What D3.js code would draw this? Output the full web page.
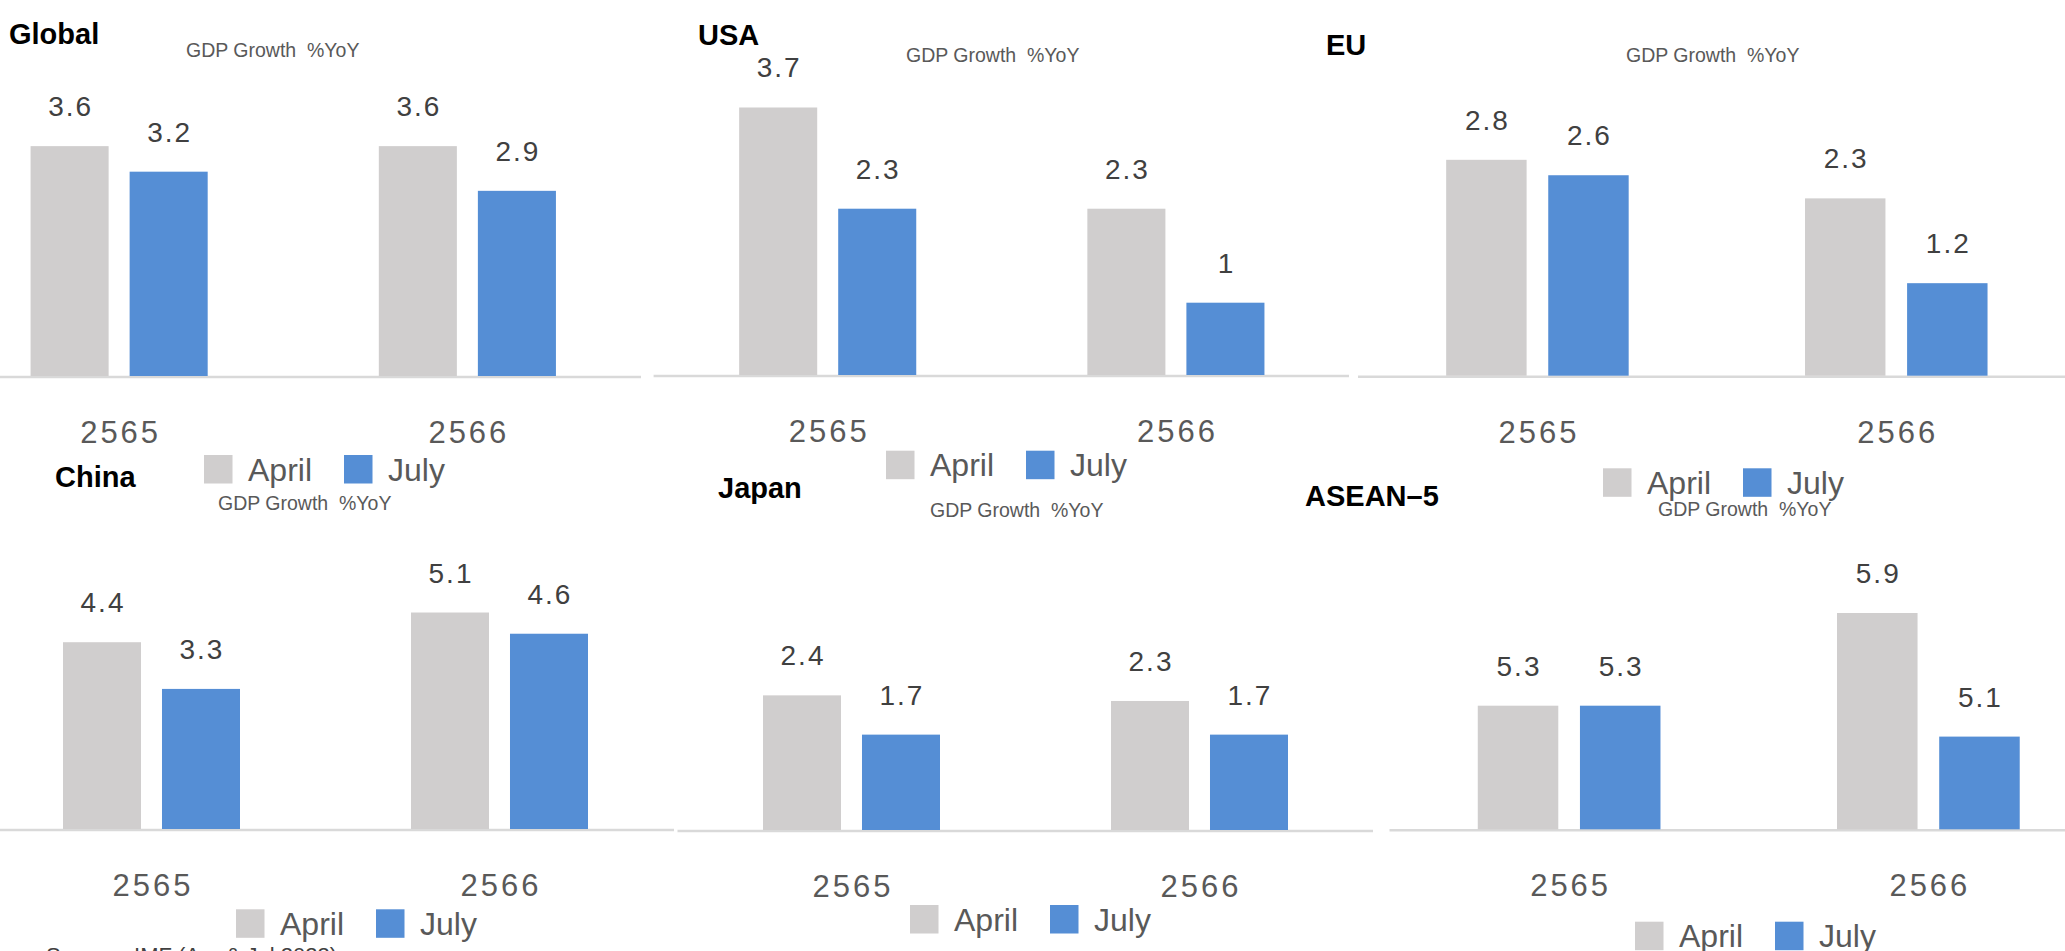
<!DOCTYPE html>
<html>
<head>
<meta charset="utf-8">
<script src="https://cdn.jsdelivr.net/npm/d3@7"></script>
<style>
  html, body { margin: 0; padding: 0; background: #ffffff; }
  svg { display: block; }
</style>
</head>
<body>
<svg id="chart" width="2065" height="951"></svg>
<script>
// ---------------- data ----------------
const regions = ["Global", "USA", "EU", "China", "Japan", "ASEAN\u20135"];
const categories = ["2565", "2566"];
const seriesNames = ["April", "July"];
const aprilValues = [[3.6, 3.6], [3.7, 2.3], [2.8, 2.3], [4.4, 5.1], [2.4, 2.3], [5.3, 5.9]];
const julyValues  = [[3.2, 2.9], [2.3, 1.0], [2.6, 1.2], [3.3, 4.6], [1.7, 1.7], [5.3, 5.1]];
const subtitleText = "GDP Growth  %YoY";
const sourceText = "Source : IMF (Apr & Jul 2023)";

// ---------------- layout (positions only) ----------------
const layout = [
  { x0: -55,    x1: 641.5, base: 376,   top: 120.6, yMin: 0,   yMax: 4, axisX0: 0,     axisX1: 641,
    title: [9, 44],     sub: [186, 56.7],  legend: [204, 455] },
  { x0: 653.6,  x1: 1350,  base: 375,   top: 85.8,  yMin: 0,   yMax: 4, axisX0: 653.6, axisX1: 1349,
    title: [698, 45],   sub: [906, 62.3],  legend: [886, 450.7] },
  { x0: 1358,   x1: 2075.7,base: 375.7, top: 144.4, yMin: 0,   yMax: 3, axisX0: 1358,  axisX1: 2065,
    title: [1326, 55],  sub: [1626, 62.3], legend: [1603, 468.3] },
  { x0: -22.5,  x1: 673.5, base: 829,   top: 574.3, yMin: 0,   yMax: 6, axisX0: 0,     axisX1: 674,
    title: [55, 486.7], sub: [218, 510],   legend: [236, 909.3] },
  { x0: 677.5,  x1: 1373.5,base: 830,   top: 661.7, yMin: 0,   yMax: 3, axisX0: 677.5, axisX1: 1373,
    title: [718, 498.3],sub: [930, 516.7], legend: [910, 905] },
  { x0: 1389.5, x1: 2108,  base: 829.3, top: 597.55,yMin: 4.5, yMax: 6, axisX0: 1389.5,axisX1: 2065,
    title: [1305, 506], sub: [1658, 516],  legend: [1635, 921.7] }
];

const colors = { April: "#d0cece", July: "#558ed5" };
const sans = "'Liberation Sans', Arial, Helvetica, sans-serif";

const svg = d3.select("#chart");
svg.append("rect").attr("width", 2065).attr("height", 951).attr("fill", "#ffffff");

regions.forEach((region, i) => {
  const L = layout[i];
  const g = svg.append("g");

  const x = d3.scaleBand().domain(categories).range([L.x0, L.x1]).paddingInner(0).paddingOuter(0);
  const band = x.bandwidth();
  const half = band * 0.2543;
  const xs = d3.scaleBand().domain(seriesNames)
    .range([band / 2 - half, band / 2 + half])
    .paddingInner(0.212).paddingOuter(0);
  const y = d3.scaleLinear().domain([L.yMin, L.yMax]).range([L.base, L.top]);

  const rows = categories.map((c, j) => ({
    cat: c,
    vals: [{ s: "April", v: aprilValues[i][j] }, { s: "July", v: julyValues[i][j] }]
  }));

  // axis baseline
  g.append("line")
    .attr("x1", L.axisX0).attr("x2", L.axisX1)
    .attr("y1", L.base + 1).attr("y2", L.base + 1)
    .attr("stroke", "#d9d9d9").attr("stroke-width", 2.5);

  const groups = g.selectAll("g.cat").data(rows).join("g")
    .attr("class", "cat")
    .attr("transform", d => `translate(${x(d.cat)},0)`);

  groups.selectAll("rect").data(d => d.vals).join("rect")
    .attr("x", d => xs(d.s))
    .attr("width", xs.bandwidth())
    .attr("y", d => y(d.v))
    .attr("height", d => y(L.yMin) - y(d.v))
    .attr("fill", d => colors[d.s]);

  groups.selectAll("text.val").data(d => d.vals).join("text")
    .attr("class", "val")
    .attr("x", d => xs(d.s) + xs.bandwidth() / 2 + 1)
    .attr("y", d => y(d.v) - 30)
    .attr("text-anchor", "middle")
    .attr("font-family", sans)
    .attr("font-size", 28)
    .attr("letter-spacing", 2)
    .attr("fill", "#404040")
    .text(d => String(d.v));

  // category axis labels
  const xAxis = d3.axisBottom(x).tickSize(0).tickPadding(0);
  const ax = g.append("g").attr("transform", `translate(0,${L.base + 67})`).call(xAxis);
  ax.select(".domain").remove();
  ax.selectAll("text")
    .attr("dy", 0)
    .attr("x", 1.5)
    .attr("font-family", sans)
    .attr("font-size", 31)
    .attr("letter-spacing", 3)
    .attr("fill", "#595959");

  // title
  g.append("text")
    .attr("x", L.title[0]).attr("y", L.title[1])
    .attr("font-family", sans)
    .attr("font-weight", "bold")
    .attr("font-size", 29)
    .attr("fill", "#000000")
    .text(region);

  // subtitle
  g.append("text")
    .attr("x", L.sub[0]).attr("y", L.sub[1])
    .attr("font-family", sans)
    .attr("font-size", 19.5)
    .attr("fill", "#595959")
    .attr("xml:space", "preserve")
    .style("white-space", "pre")
    .text(subtitleText);

  // legend
  const leg = g.append("g").attr("transform", `translate(${L.legend[0]},${L.legend[1]})`);
  const li = leg.selectAll("g").data(seriesNames).join("g")
    .attr("transform", (d, k) => `translate(${k * 140},0)`);
  li.append("rect").attr("width", 28.5).attr("height", 28.5).attr("fill", d => colors[d]);
  li.append("text")
    .attr("x", 44).attr("y", 25.7)
    .attr("font-family", sans)
    .attr("font-size", 32)
    .attr("fill", "#595959")
    .text(d => d);
});

// source note (cropped at bottom edge, as in the reference)
svg.append("text")
  .attr("x", 46).attr("y", 963)
  .attr("font-family", sans)
  .attr("font-size", 22)
  .attr("fill", "#404040")
  .text(sourceText);
</script>
</body>
</html>
